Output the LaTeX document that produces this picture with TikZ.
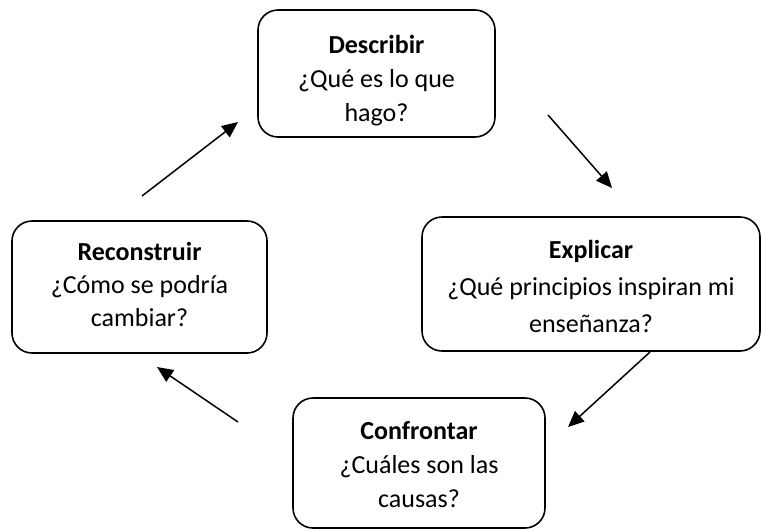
\documentclass[tikz,border=0pt]{standalone}
\usepackage{fontspec}
\setmainfont{Carlito}
\usetikzlibrary{arrows.meta}

\begin{document}
\begin{tikzpicture}[x=1pt,y=-1pt,
  caja/.style={draw=black, line width=1.6pt, rounded corners=20pt, inner sep=0pt},
  texto/.style={align=center, inner sep=0pt, anchor=base, font=\fontsize{26}{34}\selectfont},
  flecha/.style={line width=1.5pt, -{Triangle[length=16pt,width=14pt]}}]

\useasboundingbox (0,0) rectangle (762,531);

% Boxes
\node[caja, minimum width=237pt, minimum height=127pt] (describir) at (376.5,73.5) {};
\node[caja, minimum width=338pt, minimum height=134pt] (explicar) at (591,284) {};
\node[caja, minimum width=252pt, minimum height=130pt] (confrontar) at (419,463) {};
\node[caja, minimum width=255pt, minimum height=132pt] (reconstruir) at (139.5,287) {};

% Texts, placed at the baseline of their last line
% (the last line of Describir is cut by the box)
\begin{scope}
\clip (258,10) rectangle (495,127);
\node[texto] (describir-t) at (376.5,121) {\textbf{Describir}\\¿Qué es lo que\\hago?};
\end{scope}
\node[texto, font=\fontsize{26}{37}\selectfont] (explicar-t) at (591,332) {\textbf{Explicar}\\¿Qué principios inspiran mi\\enseñanza?};
\node[texto, font=\fontsize{26}{34}\selectfont] (confrontar-t) at (419,507) {\textbf{Confrontar}\\¿Cuáles son las\\causas?};
\node[texto, font=\fontsize{26}{33}\selectfont] (reconstruir-t) at (139.5,326) {\textbf{Reconstruir}\\¿Cómo se podría\\cambiar?};

% Arrow ends
\coordinate (a1) at (142,196);
\coordinate (b1) at (238,122);
\coordinate (a2) at (548,115);
\coordinate (b2) at (612,188);
\coordinate (a3) at (650,352);
\coordinate (b3) at (568,427);
\coordinate (a4) at (238,422);
\coordinate (b4) at (157,367);

% Cycle
\draw[flecha] (a1) -- (b1);
\draw[flecha] (a2) -- (b2);
\draw[flecha] (a3) -- (b3);
\draw[flecha] (a4) -- (b4);

\end{tikzpicture}
\end{document}
